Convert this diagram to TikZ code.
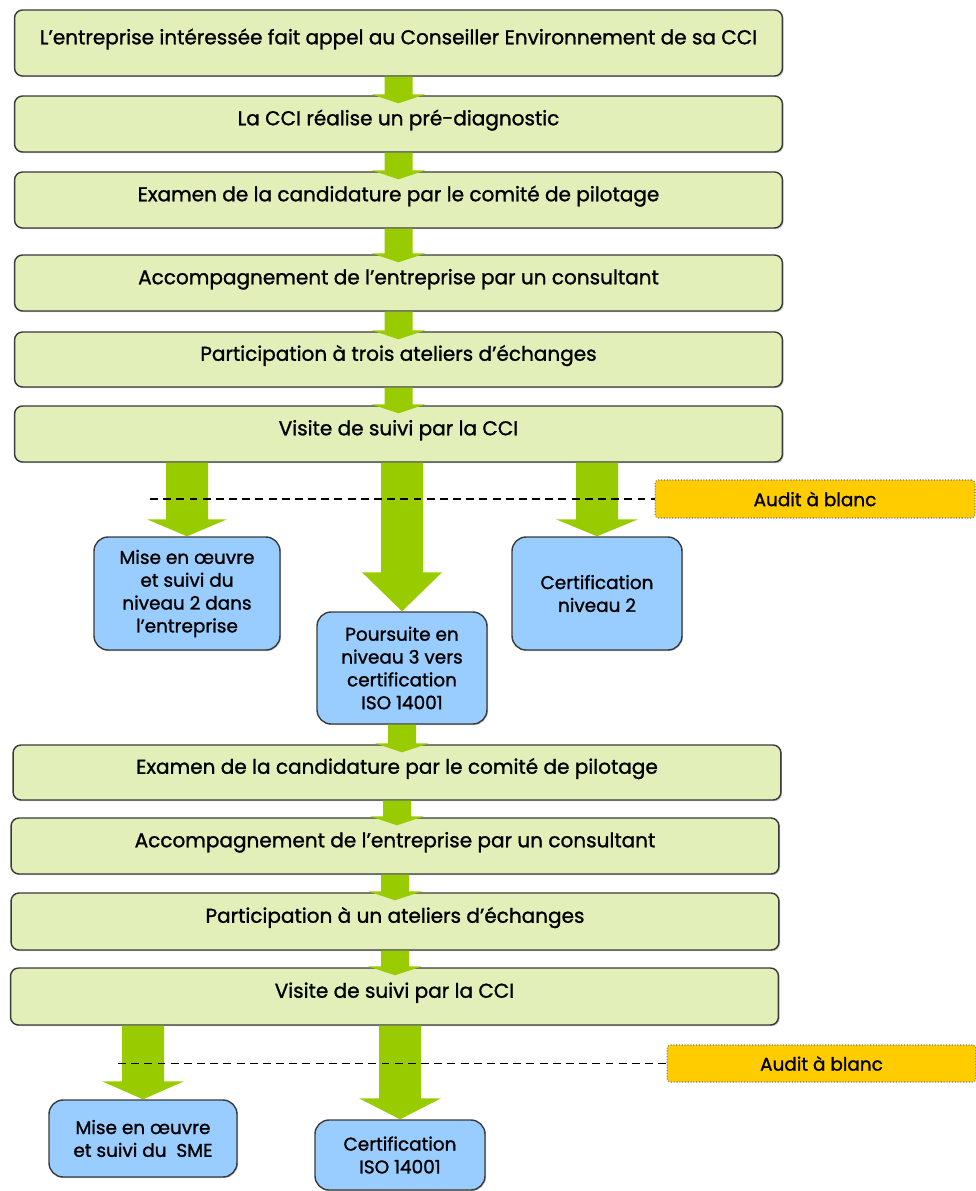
\documentclass[tikz,border=0pt]{standalone}
\usepackage{fontspec}
\setmainfont{Poppins}[FakeBold=1.2]
\usepackage{xcolor}
\usetikzlibrary{calc, shadows}

\definecolor{vertclair}{HTML}{E3EFB9}
\definecolor{vertfleche}{HTML}{99CC00}
\definecolor{bleuclair}{HTML}{99CCFF}
\definecolor{jaune}{HTML}{FFCC00}
\definecolor{bord}{HTML}{3A3A3A}

% fleche pleine : depart, pointe, demi-largeur tige, demi-largeur tete, longueur tete
\newcommand{\fleche}[5]{%
  \fill[vertfleche] ($(#1)+(-#3,0)$) -- ($(#1 |- #2)+(-#3,-#5)$) -- ($(#1 |- #2)+(-#4,-#5)$)
    -- (#1 |- #2) -- ($(#1 |- #2)+(#4,-#5)$) -- ($(#1 |- #2)+(#3,-#5)$) -- ($(#1)+(#3,0)$) -- cycle;}

\begin{document}
\begin{tikzpicture}[
    x=0.02cm, y=-0.02cm,
    etape/.style={rectangle, draw=bord, line width=0.8pt, rounded corners=4.5pt, fill=vertclair,
      minimum width=15.36cm, minimum height=1.12cm, text height=0.27cm, text depth=0.22cm,
      font=\fontsize{11.4}{13}\selectfont,
      drop shadow={shadow xshift=0.7pt, shadow yshift=-0.7pt, fill=black!45}},
    issue/.style={rectangle, draw=bord, line width=0.8pt, rounded corners=8pt, fill=bleuclair,
      minimum width=3.4cm, align=center, font=\fontsize{10.5}{13}\selectfont,
      drop shadow={shadow xshift=0.6pt, shadow yshift=-0.6pt, fill=black!45}},
    audit/.style={rectangle, draw=black!55, densely dotted, line width=0.6pt, rounded corners=2pt,
      fill=jaune, minimum height=0.76cm, font=\fontsize{10.5}{12}\selectfont},
    pointille/.style={draw=black, dash pattern=on 4.5pt off 3pt, line width=0.7pt}
]
\useasboundingbox (0,0) rectangle (976,1191);

% premier niveau
\node[etape, minimum height=1.32cm] (e1) at (398.5,43) {L'entreprise intéressée fait appel au Conseiller Environnement de sa CCI};
\node[etape] (e2) at (398.5,124) {La CCI réalise un pré-diagnostic};
\node[etape] (e3) at (398.5,200) {Examen de la candidature par le comité de pilotage};
\node[etape] (e4) at (398.5,283) {Accompagnement de l'entreprise par un consultant};
\node[etape, minimum height=1.1cm] (e5) at (398.5,359.5) {Participation à trois ateliers d'échanges};
\node[etape] (e6) at (398.5,434) {Visite de suivi par la CCI};

\node[issue, minimum width=3.72cm, minimum height=2.26cm] (b1) at (187,593.5) {Mise en œuvre\\et suivi du\\niveau 2 dans\\l'entreprise};
\node[issue, minimum height=2.24cm] (b2) at (402,668) {Poursuite en\\niveau 3 vers\\certification\\ISO 14001};
\node[issue, minimum height=2.26cm] (b3) at (597,593.5) {Certification\\niveau 2};

\node[audit, minimum width=6.4cm] (a1) at (815,499) {Audit à blanc};

% second niveau
\node[etape, minimum height=1.1cm] (e7) at (397,772.5) {Examen de la candidature par le comité de pilotage};
\node[etape] (e8) at (395,846) {Accompagnement de l'entreprise par un consultant};
\node[etape, minimum height=1.14cm] (e9) at (395,921.5) {Participation à un ateliers d'échanges};
\node[etape, minimum height=1.14cm] (e10) at (394.5,996.5) {Visite de suivi par la CCI};

\node[issue, minimum width=3.76cm, minimum height=1.54cm] (b4) at (143,1138.5) {Mise en œuvre\\et suivi du \ SME};
\node[issue, minimum height=1.4cm] (b5) at (400,1155) {Certification\\ISO 14001};

\node[audit, minimum width=6.18cm, minimum height=0.74cm] (a2) at (821.5,1063.5) {Audit à blanc};

% fleches
\coordinate (t2) at ($(e2.north)+(0,8)$);
\coordinate (t3) at ($(e3.north)+(0,8)$);
\coordinate (t4) at ($(e4.north)+(0,8)$);
\coordinate (t5) at ($(e5.north)+(0,8)$);
\coordinate (t6) at ($(e6.north)+(0,8)$);
\coordinate (t7) at ($(e7.north)+(0,8)$);
\coordinate (t8) at ($(e8.north)+(0,8)$);
\coordinate (t9) at ($(e9.north)+(0,8)$);
\coordinate (t10) at ($(e10.north)+(0,8)$);
\fleche{e1.south}{t2}{14}{27}{9}
\fleche{e2.south}{t3}{14}{27}{9}
\fleche{e3.south}{t4}{14}{27}{9}
\fleche{e4.south}{t5}{14}{27}{9}
\fleche{e5.south}{t6}{14}{27}{9}
\fleche{b2.south}{t7}{14}{27}{9}
\fleche{e7.south}{t8}{14}{27}{9}
\fleche{e8.south}{t9}{14}{27}{9}
\fleche{e9.south}{t10}{14}{27}{9}

\fleche{b1 |- e6.south}{b1.north}{21}{40}{17}
\fleche{b2 |- e6.south}{b2.north}{21}{40}{39}
\fleche{b3 |- e6.south}{b3.north}{21}{41}{17}
\fleche{b4 |- e10.south}{b4.north}{21}{41}{18}
\fleche{b5 |- e10.south}{b5.north}{21}{41}{21}

% audits
\coordinate (d1) at (150,499);
\coordinate (d2) at (118,1063.5);
\draw[pointille] (d1) -- (a1.west);
\draw[pointille] (d2) -- (a2.west);
\end{tikzpicture}
\end{document}
